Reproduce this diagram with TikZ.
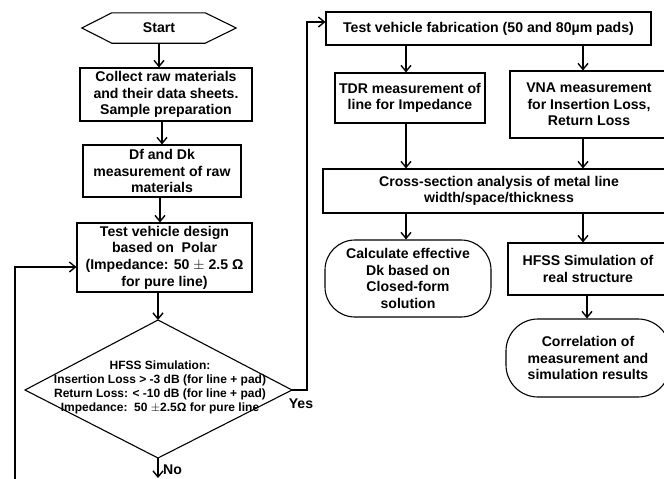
\documentclass[tikz,border=0pt]{standalone}
\usepackage{fontspec}
\setmainfont{Liberation Sans}
\usetikzlibrary{arrows.meta,calc}
\begin{document}
\begin{tikzpicture}[x=1pt,y=-1pt,
  box/.style={draw, line width=1.1pt, align=center, inner sep=1pt,
    font=\bfseries\fontsize{14.1}{16.7}\selectfont},
  rbox/.style={box, rounded corners=30pt},
  small/.style={align=center, inner sep=0pt, font=\bfseries\fontsize{12}{14}\selectfont},
  lbl/.style={inner sep=0pt, font=\bfseries\fontsize{14.1}{16}\selectfont},
  arr/.style={line width=1.4pt, -{Straight Barb[length=6pt,width=10pt,line width=1.4pt]}},
  ln/.style={line width=1.4pt}
]
\useasboundingbox (0,0) rectangle (664,479);
\clip (0,0) rectangle (664,479);

% left column
\node[lbl, minimum width=154pt, minimum height=30pt] (start) at (159,28) {Start};
\draw[line width=1.1pt] ([xshift=30pt]start.north west) -- ([xshift=-31pt]start.north east)
  -- (start.east) -- ([xshift=-31pt]start.south east) -- ([xshift=30pt]start.south west)
  -- (start.west) -- cycle;

\node[box, minimum width=172pt, minimum height=53pt] (collect) at (166,94.5)
  {Collect raw materials\\and their data sheets.\\Sample preparation};
\node[box, minimum width=158pt, minimum height=52pt] (df) at (162,171)
  {Df and Dk\\measurement of raw\\materials};
\node[box, minimum width=175pt, minimum height=69pt] (design) at (164.5,257.5)
  {Test vehicle design\\based on\ \ Polar\\(Impedance: 50 $\pm$ 2.5 Ω\\for pure line)};

\coordinate (dtop) at (158,320);
\coordinate (dleft) at (25,390);
\coordinate (dright) at (292,390);
\coordinate (dbot) at (158,458);
\draw[line width=1.1pt] (dtop) -- (dright) -- (dbot) -- (dleft) -- cycle;
\node[small] (dtext) at (160,387)
  {HFSS Simulation:\\Insertion Loss > -3 dB (for line + pad)\\Return Loss: < -10 dB (for line + pad)\\Impedance:\ \ 50 $\pm$2.5Ω for pure line};

% right column
\node[box, minimum width=325pt, minimum height=33pt] (fab) at (488.5,28.5)
  {Test vehicle fabrication (50 and 80µm pads)};
\node[box, minimum width=150pt, minimum height=50pt] (tdr) at (410,98)
  {TDR measurement of\\line for Impedance};
\node[box, minimum width=158pt, minimum height=67pt] (vna) at (589,104.5)
  {VNA measurement\\for Insertion Loss,\\Return Loss};
\node[box, minimum width=352pt, minimum height=44pt] (cross) at (499,191)
  {Cross-section analysis of metal line\\width/space/thickness};
\node[rbox, minimum width=166pt, minimum height=77pt] (calc) at (408,278.5)
  {Calculate effective\\Dk based on\\Closed-form\\solution};
\node[box, minimum width=160pt, minimum height=52pt] (hfss) at (588,269)
  {HFSS Simulation of\\real structure};
\node[rbox, rounded corners=32pt, minimum width=164pt, minimum height=78pt] (corr) at (588,358)
  {Correlation of\\measurement and\\simulation results};

% helper x positions
\coordinate (xa) at (406,0);
\coordinate (xb) at (583,0);
\coordinate (xc) at (587,0);

% connectors left
\draw[arr] (start.south) -- (start.south |- collect.north);
\draw[arr] (collect.south -| 162,0) -- (df.north -| 162,0);
\draw[arr] (df.south -| 160,0) -- (design.north -| 160,0);
\draw[arr] (design.south -| dtop) -- (dtop);
\coordinate (fb) at (15,479);
\draw[arr] (fb) |- ([yshift=-9.5pt]design.west);
\coordinate (ycorner) at (307,390);
\draw[arr] (dright) -- (ycorner) |- ([yshift=6.5pt]fab.west);
\node[lbl] (yes) at (301,404) {Yes};
\coordinate (nend) at (158,478);
\draw[arr] (dbot) -- (nend);
\node[lbl, anchor=west] (no) at (163,470) {No};

% connectors right
\draw[arr] (fab.south -| xa) -- (tdr.north -| xa);
\draw[arr] (fab.south -| xb) -- (vna.north -| xb);
\draw[arr] (tdr.south -| xa) -- (cross.north -| xa);
\draw[arr] (vna.south -| xb) -- (cross.north -| xb);
\draw[arr] (cross.south -| xa) -- (calc.north -| xa);
\draw[arr] (cross.south -| xb) -- (hfss.north -| xb);
\draw[arr] (hfss.south -| xc) -- (corr.north -| xc);
\end{tikzpicture}
\end{document}
